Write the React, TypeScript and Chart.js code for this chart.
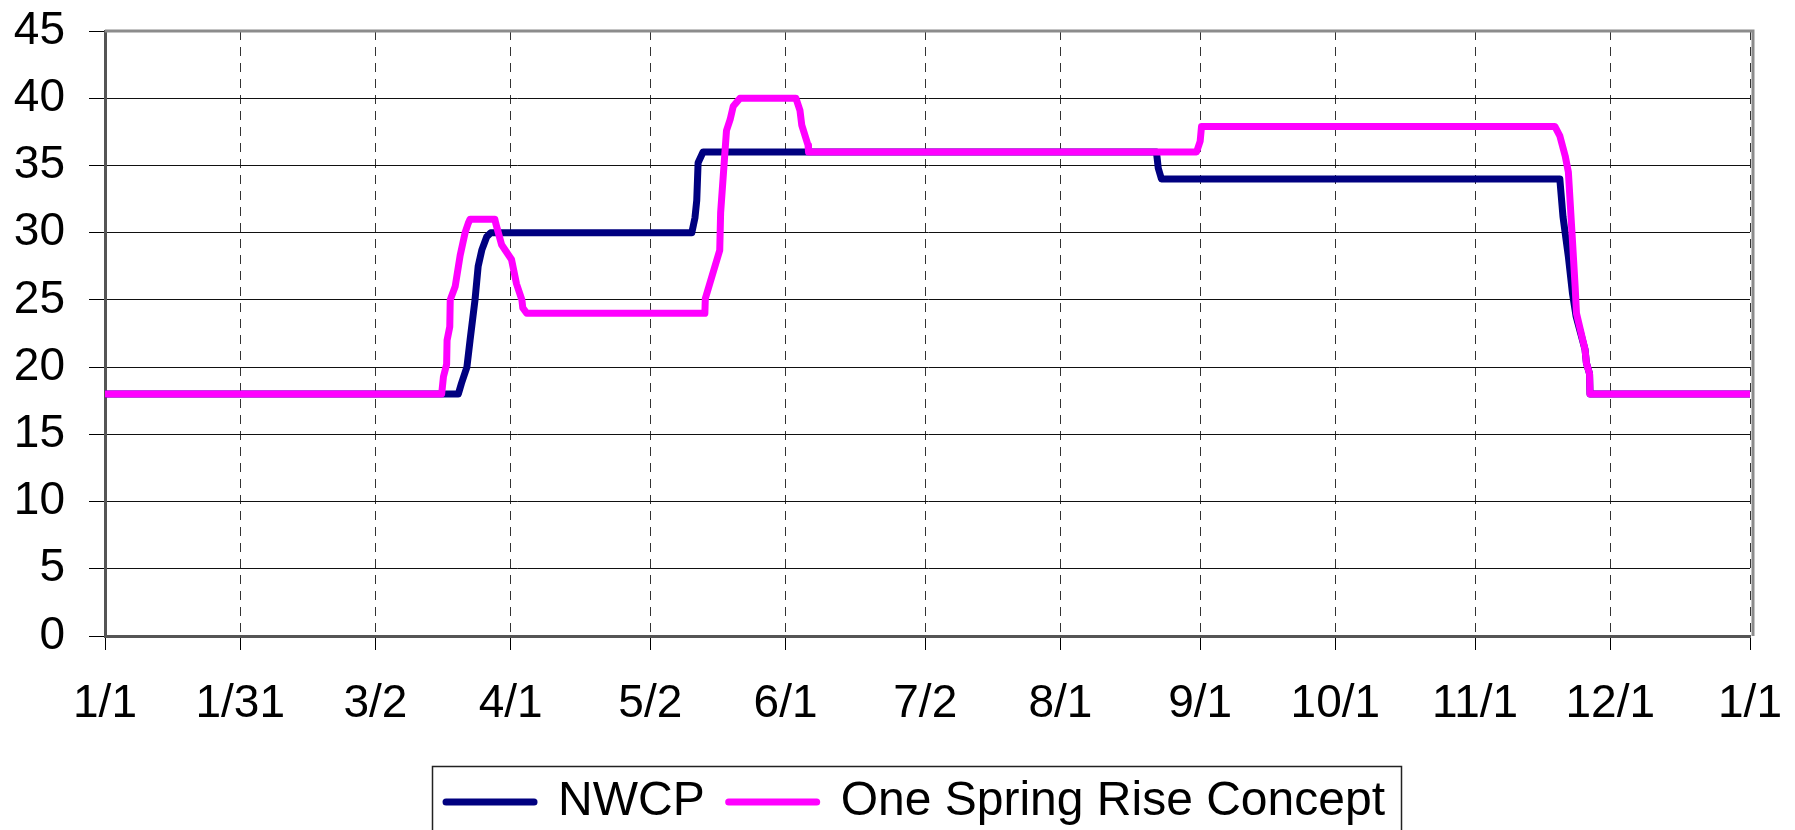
import React, { useEffect, useRef } from 'react';
import { Chart, registerables } from 'chart.js';

Chart.register(...registerables);

// X axis: day-of-year tick positions and their labels
const TICK_DAYS = [0, 30, 60, 90, 121, 151, 182, 212, 243, 273, 304, 334, 365];
const TICK_LABELS = ['1/1', '1/31', '3/2', '4/1', '5/2', '6/1', '7/2', '8/1', '9/1', '10/1', '11/1', '12/1', '1/1'];

// Y axis
const Y_MIN = 0;
const Y_MAX = 45;
const Y_STEP = 5;

// Series: NWCP
const NWCP_LABEL = 'NWCP';
const NWCP_DAYS = [0, 78.4, 79.1, 80.3, 81, 82.1, 82.8, 83.6, 84.7, 85.6, 130.2, 130.9, 131.3, 131.6, 132.7, 233.3, 233.7, 234.4, 322.8, 323.5, 324.7, 325.6, 326.4, 328.4, 328.7, 329.4, 329.5, 365];
const NWCP_VALUES = [18, 18, 18.8, 20, 22, 25, 27.5, 28.7, 29.7, 30, 30, 31.1, 32.4, 35.2, 36, 36, 34.8, 34, 34, 31.2, 28.2, 25.5, 23.8, 21.3, 20.3, 19.5, 18, 18];

// Series: One Spring Rise Concept
const OSR_LABEL = 'One Spring Rise Concept';
const OSR_DAYS = [0, 74.7, 75.1, 75.8, 75.9, 76.5, 76.6, 77.7, 78.8, 79.9, 80.6, 81, 86.5, 86.7, 88, 90.2, 91.3, 92.5, 92.7, 93.6, 133.1, 133.2, 136.4, 136.6, 137.9, 138.7, 139.4, 140.9, 153.3, 154.2, 154.6, 156, 156.1, 242.2, 243, 243.3, 321.7, 322.8, 324, 324.7, 325.5, 326.2, 326.5, 328.4, 328.7, 329.4, 329.5, 365];
const OSR_VALUES = [18, 18, 19.3, 20.2, 22, 23, 25, 26, 28.3, 30, 30.7, 31, 31, 30.7, 29.1, 28, 26.2, 25, 24.4, 24, 24, 25.1, 28.7, 31.5, 37.6, 38.4, 39.4, 40, 40, 39.1, 38, 36.5, 36, 36, 36.8, 37.9, 37.9, 37.2, 35.7, 34.5, 30, 26, 24, 21.3, 20.3, 19.5, 18, 18];

const NAVY = '#000080';
const MAGENTA = '#FF00FF';
const FONT = "'Liberation Sans', Arial, Helvetica, sans-serif";

const toPoints = (xs: number[], ys: number[]) => xs.map((x, i) => ({ x, y: ys[i] }));

const zeroPadding = (scale: any) => {
  scale.paddingTop = 0;
  scale.paddingBottom = 0;
  scale.paddingLeft = 0;
  scale.paddingRight = 0;
};

export default function App() {
  const ref = useRef<HTMLCanvasElement>(null);

  useEffect(() => {
    document.body.style.margin = '0';
    const canvas = ref.current;
    if (!canvas) return;

    const framePlugin = {
      id: 'frame',
      afterLayout(chart: any) {
        const lg = chart.legend;
        if (lg) {
          lg.left -= 12;
          lg.right -= 12;
        }
      },
      beforeDatasetsDraw(chart: any) {
        const { ctx, chartArea: a } = chart;
        ctx.save();
        ctx.strokeStyle = '#8c8c8c';
        ctx.lineWidth = 3;
        ctx.beginPath();
        ctx.moveTo(a.left, a.top);
        ctx.lineTo(a.right + 3, a.top);
        ctx.lineTo(a.right + 3, a.bottom);
        ctx.stroke();
        ctx.restore();
      },
      afterDraw(chart: any) {
        const lg = chart.legend;
        const hb = lg && lg.legendHitBoxes;
        if (!hb || !hb.length) return;
        const { ctx } = chart;
        const last = hb[hb.length - 1];
        const left = Math.round(hb[0].left - 14) + 0.5;
        const right = Math.round(last.left + last.width + 16) + 0.5;
        const top = Math.round(hb[0].top - 12) + 0.5;
        ctx.save();
        ctx.strokeStyle = '#222';
        ctx.lineWidth = 1.5;
        ctx.strokeRect(left, top, right - left, 200);
        ctx.restore();
      },
    };

    const chart = new Chart(canvas, {
      type: 'line',
      data: {
        datasets: [
          {
            label: NWCP_LABEL,
            data: toPoints(NWCP_DAYS, NWCP_VALUES),
            borderColor: NAVY,
            backgroundColor: NAVY,
            borderWidth: 7,
            pointRadius: 0,
            tension: 0,
            borderJoinStyle: 'round',
            order: 1,
          },
          {
            label: OSR_LABEL,
            data: toPoints(OSR_DAYS, OSR_VALUES),
            borderColor: MAGENTA,
            backgroundColor: MAGENTA,
            borderWidth: 7,
            pointRadius: 0,
            tension: 0,
            borderJoinStyle: 'round',
            order: 0,
          },
        ],
      },
      options: {
        responsive: false,
        animation: false,
        layout: { padding: { top: 31, right: 45, left: 0, bottom: 0 } },
        scales: {
          x: {
            type: 'linear',
            min: 0,
            max: 365,
            afterBuildTicks: (scale: any) => {
              scale.ticks = TICK_DAYS.map((v) => ({ value: v }));
            },
            afterFit: (scale: any) => {
              scale.height = 118;
              zeroPadding(scale);
            },
            ticks: {
              autoSkip: false,
              maxRotation: 0,
              minRotation: 0,
              padding: 27,
              color: '#000',
              font: { family: FONT, size: 46 },
              callback: (_v: any, i: number) => TICK_LABELS[i],
            },
            grid: {
              color: '#333',
              lineWidth: 1,
              tickLength: 14,
              tickColor: '#000',
              tickWidth: 1,
              tickBorderDash: [],
            },
            border: { display: true, color: '#555', width: 3, dash: [9, 7] },
          },
          y: {
            min: Y_MIN,
            max: Y_MAX,
            afterFit: (scale: any) => {
              scale.width = 105;
              zeroPadding(scale);
            },
            ticks: {
              stepSize: Y_STEP,
              padding: 24,
              color: '#000',
              font: { family: FONT, size: 46 },
            },
            grid: {
              color: '#111',
              lineWidth: 1,
              tickLength: 16,
              tickColor: '#000',
            },
            border: { display: true, color: '#555', width: 3 },
          },
        },
        plugins: {
          tooltip: { enabled: false },
          legend: {
            position: 'bottom',
            fullSize: false,
            labels: {
              usePointStyle: true,
              pointStyle: 'line',
              pointStyleWidth: 88,
              padding: 24,
              color: '#000',
              font: { family: FONT, size: 48 },
              sort: (a: any, b: any) => a.datasetIndex - b.datasetIndex,
              generateLabels: (c: any) =>
                (Chart.defaults.plugins.legend.labels as any)
                  .generateLabels(c)
                  .map((it: any) => ({ ...it, lineCap: 'round' })),
            },
          },
        },
      } as any,
      plugins: [framePlugin],
    });

    return () => chart.destroy();
  }, []);

  return (
    <div style={{ position: 'fixed', left: 0, top: 0, width: 1795, height: 830, overflow: 'hidden', background: '#fff' }}>
      <canvas ref={ref} width={1795} height={836} style={{ display: 'block' }} />
    </div>
  );
}
